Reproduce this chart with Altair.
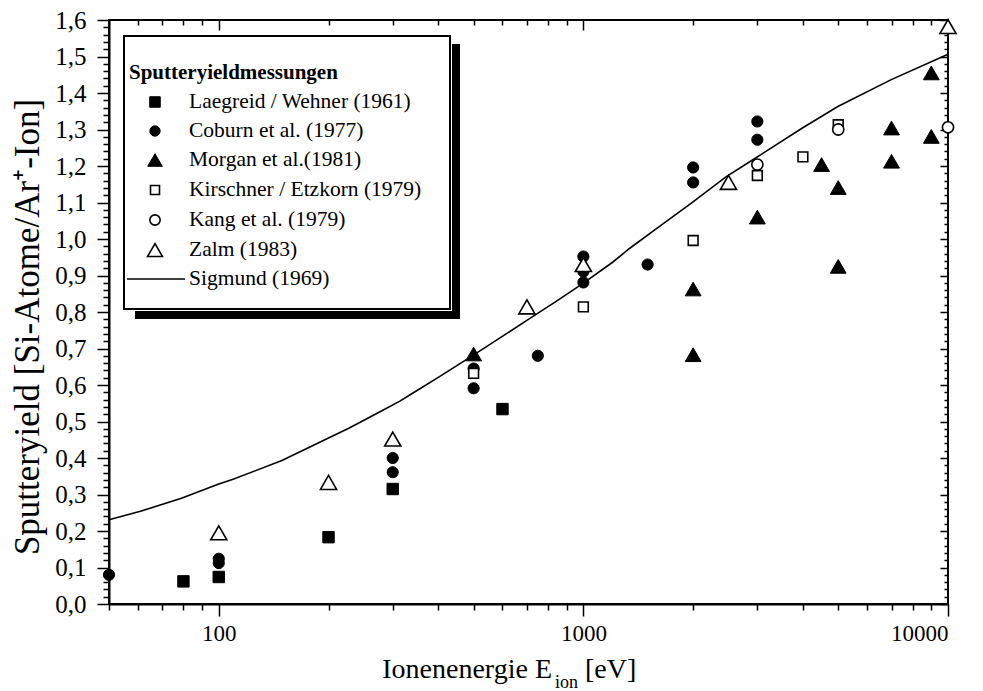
import altair as alt
import pandas as pd

# ---------------- data ----------------
laeg_x = [80, 100, 200, 300, 600]
laeg_y = [0.062, 0.074, 0.183, 0.315, 0.534]

coburn_x = [50, 100, 100, 300, 300, 500, 500, 750, 1000, 1000, 1000, 1500, 2000, 2000, 3000, 3000]
coburn_y = [0.080, 0.112, 0.124, 0.361, 0.400, 0.591, 0.645, 0.680, 0.881, 0.911, 0.952, 0.930, 1.155, 1.196, 1.272, 1.322]

morgan_x = [500, 2000, 2000, 3000, 4500, 5000, 5000, 7000, 7000, 9000, 9000]
morgan_y = [0.685, 0.683, 0.863, 1.060, 1.204, 1.141, 0.925, 1.304, 1.213, 1.455, 1.281]

kirsch_x = [500, 1000, 2000, 3000, 4000, 5000]
kirsch_y = [0.632, 0.814, 0.996, 1.174, 1.225, 1.313]

kang_x = [3000, 5000, 10000]
kang_y = [1.204, 1.300, 1.306]

zalm_x = [100, 200, 300, 700, 1000, 2500, 10000]
zalm_y = [0.195, 0.333, 0.452, 0.814, 0.930, 1.155, 1.582]

sig_x = [50, 61, 79, 100, 109, 149, 200, 228, 276, 313, 341, 403, 498, 614, 710, 842,
         1000, 1205, 1338, 1614, 1982, 2460, 2968, 3988, 4988, 6966, 10000]
sig_y = [0.231, 0.254, 0.290, 0.329, 0.341, 0.393, 0.455, 0.482, 0.526, 0.555, 0.578, 0.623,
         0.681, 0.740, 0.781, 0.829, 0.879, 0.937, 0.974, 1.034, 1.099, 1.170, 1.222, 1.304,
         1.363, 1.436, 1.506]

legend_title = "Sputteryieldmessungen"
legend_labels = ["Laegreid / Wehner (1961)", "Coburn et al. (1977)", "Morgan et al.(1981)",
                 "Kirschner / Etzkorn (1979)", "Kang et al. (1979)", "Zalm (1983)", "Sigmund (1969)"]

x_major = [100, 1000, 10000]
x_minor = [50, 60, 70, 80, 90, 200, 300, 400, 500, 600, 700, 800, 900,
           2000, 3000, 4000, 5000, 6000, 7000, 8000, 9000]
y_major = [0.0, 0.1, 0.2, 0.3, 0.4, 0.5, 0.6, 0.7, 0.8, 0.9, 1.0, 1.1, 1.2, 1.3, 1.4, 1.5, 1.6]
y_minor = [round(k * 0.02, 2) for k in range(81) if k % 5 != 0]

y_title = "Sputteryield [Si-Atome/Ar\u207a-Ion]"
x_title_main = "Ionenenergie E"
x_title_sub = "ion"
x_title_end = "[eV]"

# ---------------- layout ----------------
W, H = 839, 584
PAD_L, PAD_T = 109, 20
FONT = "Liberation Serif"

xscale = alt.Scale(type="log", domain=[50, 10000], nice=False)
yscale = alt.Scale(domain=[0, 1.6], nice=False)


def axis(orient, values, size, offset=0, labels=False, domain=False, **kw):
    return alt.Axis(orient=orient, values=values, tickSize=size, offset=offset, labels=labels,
                    domain=domain, grid=False, title=None, tickColor="black", tickWidth=1.5,
                    domainColor="black", domainWidth=2, **kw)


ax_b_major = axis("bottom", x_major, 12, labels=True, domain=True, format="d",
                  labelFont=FONT, labelFontSize=23, labelColor="black", labelPadding=6)
ax_b_minor = axis("bottom", x_minor, 6)
ax_t_major = axis("bottom", x_major, 10, offset=-H)
ax_t_minor = axis("bottom", x_minor, 5, offset=-H)
ax_l_major = axis("left", y_major, 12, labels=True, domain=True,
                  labelExpr="replace(format(datum.value, '.1f'), '.', ',')",
                  labelFont=FONT, labelFontSize=25, labelColor="black", labelPadding=11)
ax_l_minor = axis("left", y_minor, 6)
ax_r_major = axis("left", y_major, 8, offset=-W)
ax_r_minor = axis("left", y_minor, 4, offset=-W)

sig_df = pd.DataFrame({"x": sig_x, "y": sig_y})

layers = []
layers.append(alt.Chart(sig_df).mark_line(color="black", strokeWidth=1.6).encode(
    x=alt.X("x:Q", scale=xscale, axis=ax_b_major),
    y=alt.Y("y:Q", scale=yscale, axis=ax_l_major)))
for axx, axy in [(ax_b_minor, ax_l_minor), (ax_t_major, ax_r_major), (ax_t_minor, ax_r_minor)]:
    layers.append(alt.Chart(sig_df).mark_point(opacity=0).encode(
        x=alt.X("x:Q", scale=xscale, axis=axx),
        y=alt.Y("y:Q", scale=yscale, axis=axy)))

styles = [
    dict(shape="square", fill="black", stroke="black", size=130, strokeWidth=1),
    dict(shape="circle", fill="black", stroke="black", size=125, strokeWidth=1),
    dict(shape="triangle-up", fill="black", stroke="black", size=250, strokeWidth=1),
    dict(shape="square", fill="white", stroke="black", size=95, strokeWidth=1.6),
    dict(shape="circle", fill="white", stroke="black", size=125, strokeWidth=1.6),
    dict(shape="triangle-up", fill="white", stroke="black", size=260, strokeWidth=1.6),
]
series = [(laeg_x, laeg_y), (coburn_x, coburn_y), (morgan_x, morgan_y),
          (kirsch_x, kirsch_y), (kang_x, kang_y), (zalm_x, zalm_y)]
for (sx, sy), st in zip(series, styles):
    df = pd.DataFrame({"x": sx, "y": sy})
    layers.append(alt.Chart(df).mark_point(filled=True, opacity=1, **st).encode(
        x=alt.X("x:Q", scale=xscale, axis=None),
        y=alt.Y("y:Q", scale=yscale, axis=None)))

# ---------------- legend (decoration) ----------------
one = pd.DataFrame({"a": [0]})
bx0, bx1, by0, by1 = 124 - PAD_L, 450 - PAD_L, 36 - PAD_T, 309 - PAD_T
layers.append(alt.Chart(one).mark_rect(color="black").encode(
    x=alt.value(bx0 + 11), x2=alt.value(bx1 + 10), y=alt.value(by0 + 8), y2=alt.value(by1 + 10)))
layers.append(alt.Chart(one).mark_rect(color="white").encode(
    x=alt.value(bx0 - 1.5), x2=alt.value(bx1 + 2), y=alt.value(by0 - 1.5), y2=alt.value(by1 + 2)))
layers.append(alt.Chart(one).mark_rect(fill="white", stroke="black", strokeWidth=2).encode(
    x=alt.value(bx0), x2=alt.value(bx1), y=alt.value(by0), y2=alt.value(by1)))
layers.append(alt.Chart(one).mark_text(font=FONT, fontSize=21, fontWeight="bold", align="left",
                                       baseline="middle", color="black", text=legend_title).encode(
    x=alt.value(129 - PAD_L), y=alt.value(73 - PAD_T)))
row_y = [102, 131, 160, 190, 220, 250, 279]
for i, lab in enumerate(legend_labels):
    yy = row_y[i] - PAD_T
    layers.append(alt.Chart(one).mark_text(font=FONT, fontSize=21.5, align="left", baseline="middle",
                                           color="black", text=lab).encode(
        x=alt.value(189 - PAD_L), y=alt.value(yy)))
    if i < len(styles):
        st = dict(styles[i])
        st["size"] = st["size"] * 0.85
        layers.append(alt.Chart(one).mark_point(filled=True, opacity=1, **st).encode(
            x=alt.value(155 - PAD_L), y=alt.value(yy)))
    else:
        layers.append(alt.Chart(one).mark_rule(color="black", strokeWidth=1.6).encode(
            x=alt.value(127 - PAD_L), x2=alt.value(185 - PAD_L), y=alt.value(yy)))

# ---------------- axis titles ----------------
layers.append(alt.Chart(one).mark_text(font=FONT, fontSize=35, angle=270, align="center",
                                       baseline="middle", color="black", text=y_title).encode(
    x=alt.value(28 - PAD_L), y=alt.value(327 - PAD_T)))
layers.append(alt.Chart(one).mark_text(font=FONT, fontSize=28, align="right",
                                       baseline="alphabetic", color="black", text=x_title_main).encode(
    x=alt.value(552 - PAD_L), y=alt.value(678 - PAD_T)))
layers.append(alt.Chart(one).mark_text(font=FONT, fontSize=18, align="left",
                                       baseline="alphabetic", color="black", text=x_title_sub).encode(
    x=alt.value(555 - PAD_L), y=alt.value(688 - PAD_T)))
layers.append(alt.Chart(one).mark_text(font=FONT, fontSize=28, align="left",
                                       baseline="alphabetic", color="black", text=x_title_end).encode(
    x=alt.value(585 - PAD_L), y=alt.value(678 - PAD_T)))

chart = alt.layer(*layers).resolve_axis(x="independent", y="independent").properties(
    width=W, height=H,
    autosize=alt.AutoSizeParams(type="none"),
    padding={"left": PAD_L, "top": PAD_T, "right": 983 - PAD_L - W, "bottom": 691 - PAD_T - H},
    background="white",
).configure_view(stroke="black", strokeWidth=2)

chart.save("out.html", embed_options={"renderer": "svg", "actions": False})
